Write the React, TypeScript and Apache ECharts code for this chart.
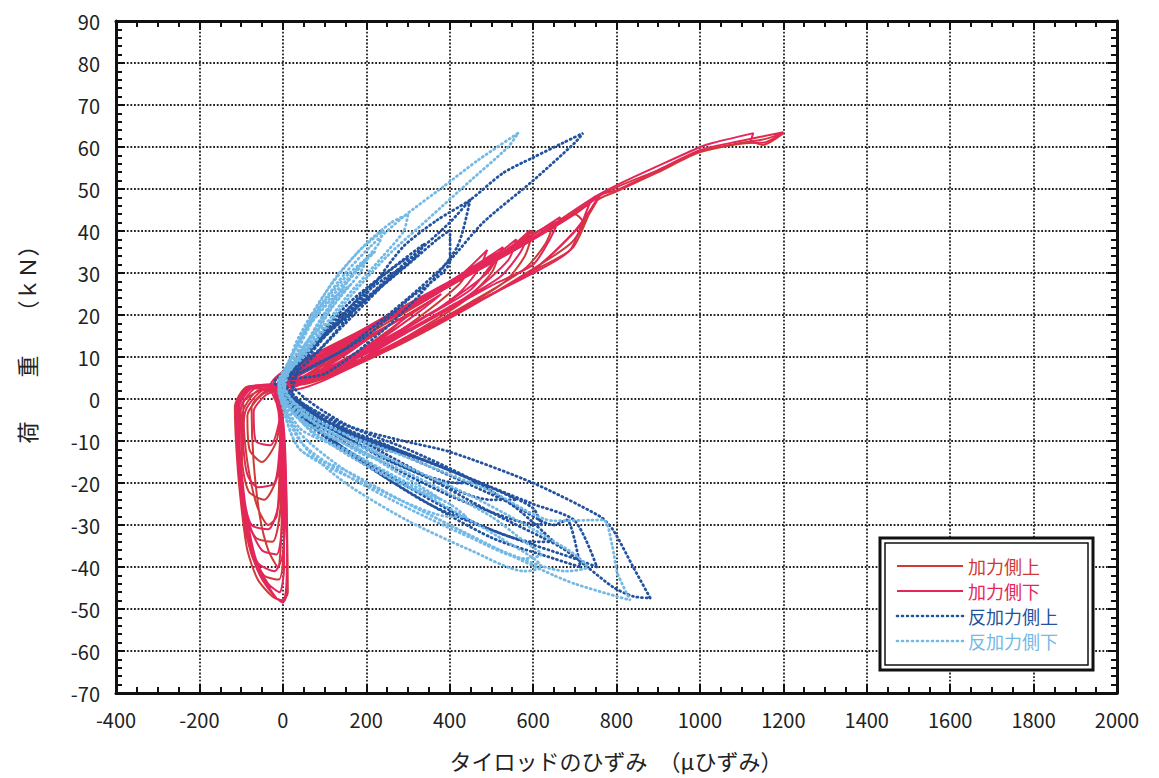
import React, { useEffect, useRef } from "react";
import * as echarts from "echarts";

// ---- axis ranges ----
const X_MIN = -400;
const X_MAX = 2000;
const X_STEP = 200;
const Y_MIN = -70;
const Y_MAX = 90;
const Y_STEP = 10;

// ---- series names / colours ----
const NAMES = ["加力側上", "加力側下", "反加力側上", "反加力側下"];
const COLORS = ["#cf3a36", "#e5265a", "#23529e", "#74b9e6"];

// ---- series values [strain (μ), load (kN)] ----
const kaUe: number[][] = [
  [0, 3],
  [80, 7], [180, 13], [250, 17], [200, 14], [90, 7], [0, 3],
  [-50, 1], [-85, -4], [-80, -12], [-50, -15], [-15, -10], [-5, -2], [0, 3],
  [140, 11], [280, 19], [350, 23], [290, 19], [150, 9], [30, 3],
  [-60, 2], [-98, -4], [-98, -14], [-82, -22], [-45, -24], [-12, -18], [-4, -6], [0, 3],
  [160, 13], [300, 21], [400, 27], [450, 31], [420, 27], [320, 19], [180, 10], [40, 4],
  [-70, 3], [-106, -2], [-104, -15], [-90, -27], [-65, -33], [-25, -34], [-6, -26], [-3, -10], [-10, 2],
  [180, 14], [350, 24], [470, 32], [520, 35], [500, 30], [430, 23], [300, 15], [150, 7], [10, 3],
  [-55, 2], [-95, -1], [-92, -9], [-80, -18], [-60, -26], [-35, -30], [-15, -28], [-8, -18], [-5, -6], [0, 3],
  [200, 16], [380, 26], [520, 34.5], [600, 40], [580, 34], [533, 28], [420, 21], [250, 12], [60, 4], [0, 3],
  [-75, 3], [-110, -3], [-107, -16], [-94, -28], [-75, -37], [-45, -42], [-10, -43], [2, -36], [4, -20], [-2, -6], [-20, 2],
  [200, 16], [420, 28], [560, 37], [650, 42], [630, 37], [580, 31], [450, 23], [250, 12], [50, 4], [0, 3],
  [-40, 2], [-75, -2], [-70, -15], [-55, -28], [-35, -36], [-12, -40], [-3, -30], [-2, -12], [-10, 2],
  [200, 16.5], [400, 27], [600, 38], [700, 44], [720, 42], [690, 37], [600, 31], [450, 22], [250, 11.5], [50, 3.5],
  [-84, 3], [-115, -2], [-110, -14], [-99, -26], [-85, -36], [-60, -43], [-25, -47], [0, -48], [12, -46], [10, -30], [4, -12], [-5, 0], [-25, 3],
  [200, 17], [400, 27], [600, 38], [761, 48.6], [720, 42], [600, 30.7], [400, 19.5], [200, 9.5], [17, 2.5],
  [200, 16], [400, 27], [600, 38], [744, 47.5], [802, 50.5], [900, 54.5], [1001, 59], [1100, 61], [1160, 62], [1200, 63.3],
  [1150, 60.5], [1130, 61], [1001, 58.8], [900, 54], [802, 49.5], [750, 47], [695, 36], [600, 30.5], [400, 19.5], [200, 9.5], [0, 2.5],
];

const kaShita: number[][] = [
  [0, 2],
  [60, 6], [130, 10], [200, 14], [150, 10.5], [60, 5], [0, 2.5],
  [-40, 1], [-70, -3], [-65, -10], [-30, -11], [-10, -6], [-5, 0], [0, 3],
  [120, 10], [220, 15.5], [300, 20], [240, 15], [120, 8], [20, 3],
  [-50, 2], [-90, -3], [-95, -10], [-85, -18], [-60, -21], [-20, -20], [-8, -12], [-5, -3], [0, 3],
  [150, 12], [280, 19], [380, 25], [330, 21], [200, 12], [60, 5], [0, 3.5],
  [-60, 3], [-100, -2], [-103, -12], [-92, -24], [-75, -30], [-35, -31], [-10, -25], [-5, -12], [-10, 0], [0, 4],
  [150, 13], [300, 22], [420, 29], [490, 35.5], [470, 31], [420, 25], [300, 17], [150, 9], [20, 3],
  [-70, 3], [-110, -1], [-106, -12], [-96, -22], [-84, -32], [-60, -39], [-20, -41], [0, -37], [5, -25], [0, -10], [-10, 2],
  [150, 13], [320, 23], [450, 31], [520, 35], [490, 30], [380, 22], [220, 13], [60, 4], [0, 3],
  [100, 11], [250, 19], [400, 28], [480, 33], [528, 36.2], [500, 32], [450, 26], [350, 20], [200, 12], [50, 4], [0, 3],
  [-65, 3], [-105, -2], [-104, -10], [-97, -20], [-80, -30], [-50, -36], [-15, -37], [-2, -30], [0, -15], [-5, 0], [0, 3],
  [180, 15], [350, 24], [480, 32], [560, 38], [540, 33], [450, 25], [300, 16], [120, 6], [0, 3],
  [200, 16], [400, 27], [520, 34], [593, 40.2], [570, 35], [520, 29], [400, 22], [200, 11], [50, 4], [0, 3.5],
  [-80, 3], [-112, -2], [-108, -14], [-96, -25], [-80, -35], [-55, -42], [-20, -47], [0, -48.5], [8, -45], [10, -35], [5, -20], [0, -8], [-20, 2],
  [200, 17], [400, 28], [550, 36], [665, 43.3], [640, 38], [600, 32], [500, 27], [300, 16], [100, 6], [0, 3],
  [-70, 3], [-108, -3], [-100, -16], [-86, -28], [-65, -38], [-35, -44], [-8, -46], [3, -40], [2, -25], [-3, -10], [-15, 2],
  [200, 16], [400, 27], [600, 38], [700, 44], [761, 48.6], [700, 40], [600, 30.7], [400, 19.5], [200, 9.3], [17, 2.1],
  [-84, 2.6], [-112, -3], [-105, -18], [-90, -30], [-60, -40], [-15, -47.5], [5, -48], [10, -40], [8, -20], [0, -5], [-30, 3],
  [200, 16.5], [400, 27.5], [600, 38.5], [744, 47.9], [802, 51], [900, 55.5], [1001, 60], [1032, 61], [1128, 63.3], [1121, 61.2],
  [1150, 61], [1200, 63.5], [1100, 61.5], [1001, 59.3], [900, 54.5], [802, 49.8], [744, 47.9], [689, 35.5], [600, 30], [400, 20], [200, 10], [0, 3],
];

const hanUe: number[][] = [
  [0, 2],
  [-20, 4], [30, 8], [80, 13], [120, 17], [90, 14], [40, 8], [0, 4],
  [60, -3], [160, -8], [260, -12], [300, -13], [240, -12], [120, -6], [30, -1], [-10, 3],
  [40, 9], [110, 16], [180, 22], [230, 26], [200, 24], [120, 17], [50, 9], [-10, 4],
  [80, -4], [250, -11], [400, -17], [470, -20], [420, -20], [260, -15], [100, -6], [0, 2],
  [50, 10], [130, 19], [220, 27], [280, 31], [260, 29], [180, 22], [90, 12], [0, 4],
  [60, -4], [200, -10], [350, -15], [520, -22], [560, -24], [500, -24], [330, -18], [150, -9], [20, 0],
  [50, 10], [150, 20], [250, 28], [320, 34], [290, 33], [200, 26], [100, 15], [0, 5],
  [100, -5], [300, -13], [500, -21], [600, -26], [620, -30], [560, -29], [400, -23], [200, -13], [50, -4], [-10, 3],
  [60, 12], [160, 23], [260, 31], [340, 37], [320, 34], [250, 28], [150, 18], [40, 7], [-10, 4],
  [100, -4], [300, -12], [450, -19], [560, -26], [650, -34], [600, -34], [450, -29], [250, -18], [80, -7], [-10, 3],
  [60, 11], [180, 22], [300, 32], [370, 38], [401, 40.2], [401, 33], [300, 23.6], [200, 15], [60, 7], [-10, 4],
  [120, -6], [350, -16], [550, -25], [650, -30], [681, -28.8], [713, -40], [650, -38], [500, -33], [300, -22], [100, -9], [-10, 2],
  [70, 12], [200, 24], [300, 33], [400, 42], [449, 47.4], [418, 36.2], [330, 25], [233, 15.7], [100, 6], [-10, 4],
  [150, -7], [400, -17], [600, -25], [700, -29], [753, -40], [700, -38], [550, -33], [350, -25], [150, -12], [0, 2],
  [80, 13], [200, 25], [288, 36.2], [370, 42.6], [449, 47.4], [528, 53.8], [600, 57.5], [672, 61], [720, 63.3],
  [700, 61], [600, 52], [480, 42], [400, 33], [300, 24], [150, 12], [20, 4],
  [150, -6], [281, -9.8], [401, -12.6], [600, -20], [761, -28], [792, -31.2], [840, -40], [881, -47.4],
  [840, -47], [792, -44.8], [730, -40], [665, -35.2], [500, -27], [300, -16], [100, -5], [0, 2],
];

const hanShita: number[][] = [
  [-10, 3],
  [20, 8], [60, 14], [100, 18], [80, 16], [40, 10], [0, 5],
  [30, -2], [100, -6], [180, -10], [250, -14], [220, -14], [120, -9], [30, -4], [-10, 2],
  [20, 10], [60, 17], [120, 24], [160, 27], [140, 25], [90, 18], [30, 9], [-10, 4],
  [20, -2], [120, -8], [250, -16], [350, -22], [380, -24], [300, -21], [150, -13], [40, -5], [-10, 3],
  [25, 11], [80, 20], [150, 28], [200, 33], [185, 30], [120, 22], [50, 11], [-10, 4],
  [41, -7], [150, -12], [280, -19], [400, -25], [440, -28], [400, -28], [280, -24], [150, -17], [40, -8], [-10, 2],
  [30, 12], [90, 22], [160, 30], [220, 35], [200, 33], [140, 26], [60, 14], [-10, 4],
  [60, -6], [200, -13], [350, -20], [500, -28], [580, -34], [620, -37], [580, -38], [450, -33], [300, -26], [150, -18], [41, -10], [0, 1],
  [30, 13], [100, 25], [180, 35], [240, 40], [230, 37], [170, 30], [90, 19], [20, 7], [-10, 4],
  [70, -8], [200, -15], [380, -25], [520, -33], [620, -40], [580, -41], [450, -36], [300, -29], [150, -20], [50, -11], [-5, 2],
  [40, 14], [120, 28], [200, 37], [260, 42], [300, 44], [290, 40], [240, 34], [150, 24], [60, 12], [0, 4],
  [80, -6], [250, -14], [450, -23], [600, -31], [700, -37], [730, -40], [680, -41], [521, -36], [400, -30], [281, -24], [150, -17], [41, -12], [0, 0],
  [20, 8], [89, 21.9], [150, 30], [209, 36.2], [288, 43.3], [384, 50.5], [470, 57], [564, 63.3],
  [540, 60], [450, 52], [350, 43], [250, 34], [150, 23], [50, 10], [-10, 4],
  [100, -6], [300, -14], [500, -22], [650, -29], [768, -28.8], [790, -35], [802, -41.4], [833, -47.9],
  [800, -47], [700, -44], [650, -42], [521, -36], [281, -24], [41, -12], [-10, 2],
];

const SERIES_DATA = [kaUe, kaShita, hanUe, hanShita];

const X_TITLE = "タイロッドのひずみ　（μひずみ）";
const Y_TITLE = "荷　　重　　（ｋＮ）";

const FONT = "'Noto Sans CJK JP', 'Noto Sans', sans-serif";

export default function App() {
  const ref = useRef<HTMLDivElement>(null);

  useEffect(() => {
    if (!ref.current) return;
    const chart = echarts.init(ref.current, null, { renderer: "svg" });

    const gridL = 116, gridT = 21, gridW = 1001, gridH = 672;

    const axisLine = { show: true, onZero: false, lineStyle: { color: "#111", width: 3 } };
    const tick = { show: true, inside: true, length: 9, lineStyle: { color: "#111", width: 2 } };
    const split = { show: true, lineStyle: { color: "#222", width: 1.8, type: [1.8, 1.8] } };

    const xBase = { type: "value", min: X_MIN, max: X_MAX, interval: X_STEP };
    const yBase = { type: "value", min: Y_MIN, max: Y_MAX, interval: Y_STEP };
    const plain = (v: number) => String(v);

    // legend drawn as graphic (line sample + coloured text)
    const legendRowsY = [566, 591, 616, 641];
    const legendGraphic: any[] = [];
    NAMES.forEach((n, i) => {
      const y = legendRowsY[i];
      legendGraphic.push({
        type: "line",
        z: 12,
        shape: { x1: 897, y1: y, x2: 963, y2: y },
        style:
          i < 2
            ? { stroke: COLORS[i], lineWidth: 2 }
            : { stroke: COLORS[i], lineWidth: 2.6, lineDash: [1, 4], lineCap: "round" },
      });
      legendGraphic.push({
        type: "text",
        z: 12,
        x: 968,
        y,
        style: {
          text: n,
          fontSize: 18,
          lineHeight: 20,
          fill: COLORS[i],
          align: "left",
          verticalAlign: "middle",
          fontFamily: FONT,
        },
      });
    });

    const option: any = {
      animation: false,
      backgroundColor: "#fff",
      textStyle: { fontFamily: FONT },
      grid: { left: gridL, top: gridT, width: gridW, height: gridH, containLabel: false },
      xAxis: [
        {
          ...xBase,
          position: "bottom",
          axisLine,
          axisTick: tick,
          minorTick: { show: true, splitNumber: 4, length: 6, lineStyle: { color: "#111", width: 2 } },
          splitLine: split,
          axisLabel: { fontSize: 20, margin: 16, color: "#222", fontFamily: FONT, formatter: plain },
        },
        {
          ...xBase,
          position: "top",
          axisLine,
          axisTick: tick,
          minorTick: { show: true, splitNumber: 4, length: 6, lineStyle: { color: "#111", width: 2 } },
          splitLine: { show: false },
          axisLabel: { show: false },
        },
      ],
      yAxis: [
        {
          ...yBase,
          position: "left",
          axisLine,
          axisTick: tick,
          minorTick: { show: true, splitNumber: 5, length: 6, lineStyle: { color: "#111", width: 2 } },
          splitLine: split,
          axisLabel: { fontSize: 20, margin: 16, color: "#222", fontFamily: FONT, formatter: plain },
        },
        {
          ...yBase,
          position: "right",
          axisLine,
          axisTick: tick,
          minorTick: { show: true, splitNumber: 5, length: 6, lineStyle: { color: "#111", width: 2 } },
          splitLine: { show: false },
          axisLabel: { show: false },
        },
      ],
      graphic: [
        {
          type: "rect",
          z: 10,
          shape: { x: 880, y: 538, width: 213, height: 132 },
          style: { fill: "#fff", stroke: "#111", lineWidth: 3 },
        },
        {
          type: "rect",
          z: 11,
          shape: { x: 885, y: 543, width: 203, height: 122 },
          style: { fill: "#fff", stroke: "#111", lineWidth: 1.5 },
        },
        ...legendGraphic,
        {
          type: "text",
          x: 616,
          y: 760,
          style: { text: X_TITLE, fontSize: 22, fill: "#222", align: "center", verticalAlign: "middle", fontFamily: FONT },
        },
        {
          type: "text",
          x: 26,
          y: 339,
          rotation: Math.PI / 2,
          style: { text: Y_TITLE, fontSize: 22, fill: "#222", align: "center", verticalAlign: "middle", fontFamily: FONT },
        },
      ],
      series: SERIES_DATA.map((d, i) => ({
        name: NAMES[i],
        type: "line",
        data: d,
        symbol: "none",
        showSymbol: false,
        smooth: 0.25,
        z: 2 + i,
        color: COLORS[i],
        lineStyle:
          i < 2
            ? { color: COLORS[i], width: 2 }
            : { color: COLORS[i], width: 2.8, type: [1, 3.6], cap: "round" },
      })),
    };

    chart.setOption(option);
    return () => chart.dispose();
  }, []);

  return (
    <div
      ref={ref}
      style={{ position: "fixed", left: 0, top: 0, width: 1159, height: 778, background: "#fff" }}
    />
  );
}
